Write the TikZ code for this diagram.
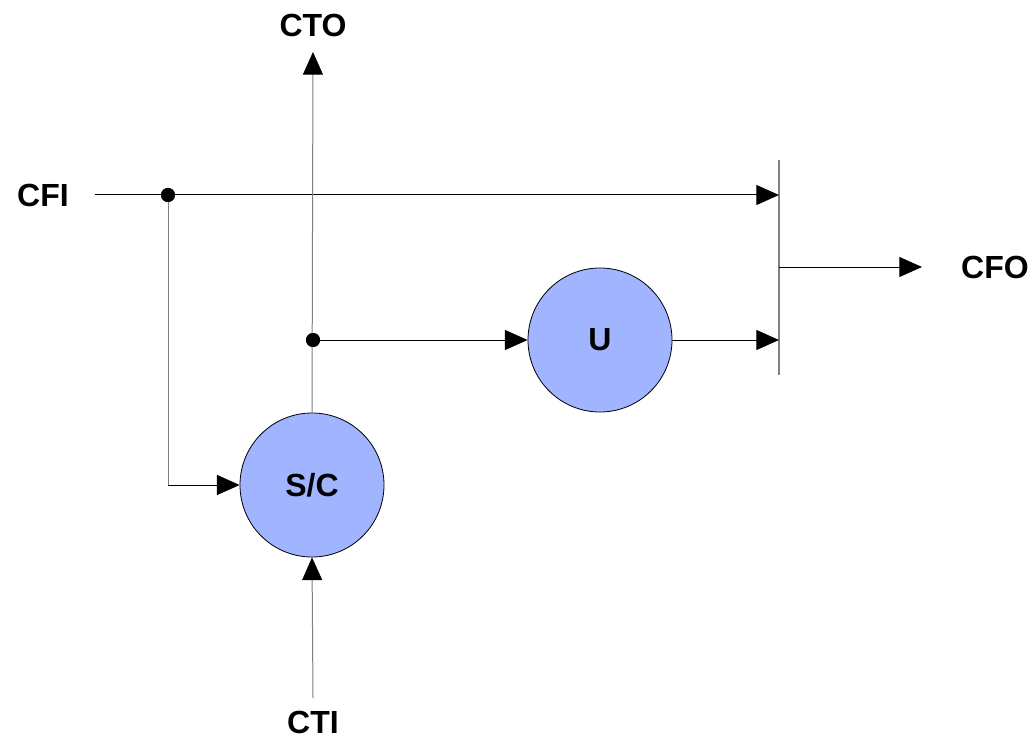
\documentclass[tikz,border=0pt]{standalone}
\usepackage{fontspec}
\setmainfont{Liberation Sans}
\usetikzlibrary{arrows.meta}
\definecolor{circfill}{HTML}{A0B4FF}
\definecolor{vline}{HTML}{808080}
\tikzset{
  lbl/.style={font=\fontsize{24}{28}\selectfont\bfseries, inner sep=0pt},
  proc/.style={circle, draw=black, line width=0.6pt, fill=circfill, minimum size=108pt, inner sep=0pt, font=\fontsize{24}{28}\selectfont\bfseries},
  conn/.style={line width=0.75pt, -{Triangle[length=17pt,width=15pt]}},
  vconn/.style={line width=0.75pt, draw=vline, -{Triangle[length=17pt,width=15pt,color=black]}},
  hl/.style={draw=black},
  vl/.style={draw=vline},
  jdot/.style={circle, fill=black, minimum size=10.5pt, inner sep=0pt}
}
\begin{document}
\begin{tikzpicture}[x=0.75pt,y=-0.75pt]
\useasboundingbox (0,0) rectangle (1032,738);
\node[lbl] (cto) at (313,25) {CTO};
\node[lbl] (cfi) at (43,195) {CFI};
\node[lbl] (cfo) at (995,267) {CFO};
\node[lbl] (cti) at (313,722) {CTI};
\node[proc] (sc) at (312,485) {S/C};
\node[proc] (u) at (600,340) {U};
\coordinate (cfiS) at (95,195);
\coordinate (barT) at (779,160);
\coordinate (barB) at (779,375);
\coordinate (barM) at (779,267);
\coordinate (barTopIn) at (779,195);
\coordinate (barBotIn) at (779,340);
\coordinate (ctoTip) at (313,52);
\coordinate (ctiS) at (313,698);
\coordinate (cfoTip) at (922,267);
\coordinate (turn) at (168,485);
\node[jdot] (d1) at (168,195) {};
\node[jdot] (d2) at (313,340) {};
% bar
\draw[vl, line width=1pt] (barT) -- (barB);
% CFI line
\draw[conn, hl] (cfiS) -- (barTopIn);
% feedback to S/C
\draw[vl, line width=0.75pt] (d1.center) -- (turn);
\draw[conn, hl] (turn) -- (sc.west);
% CTO vertical
\draw[vconn] (sc.north) -- (ctoTip);
% CTI
\draw[vconn] (ctiS) -- (sc.south);
% to U
\draw[conn, hl] (d2.center) -- (u.west);
\draw[conn, hl] (u.east) -- (barBotIn);
% CFO
\draw[conn, hl] (barM) -- (cfoTip);
\node[jdot] at (d1) {};
\node[jdot] at (d2) {};
\end{tikzpicture}
\end{document}
